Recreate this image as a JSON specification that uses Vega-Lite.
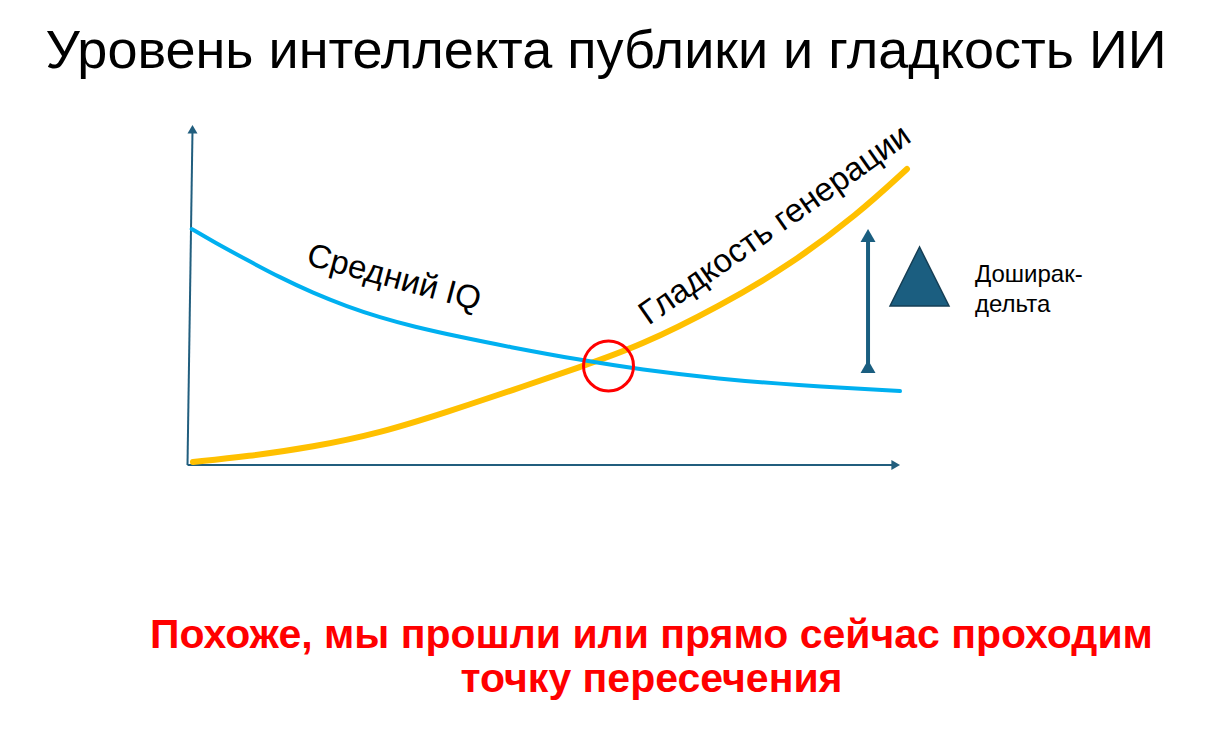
{
  "$schema": "https://vega.github.io/schema/vega-lite/v6.json",
  "width": 1230,
  "height": 743,
  "padding": 0,
  "autosize": {"type": "fit", "contains": "padding"},
  "background": "white",
  "view": {"stroke": null},
  "config": {"text": {"font": "Liberation Sans"}},
  "datasets": {
    "curves": [
      {"series": "Средний IQ", "x": 0.52, "y": 69.41},
      {"series": "Средний IQ", "x": 3.51, "y": 65.74},
      {"series": "Средний IQ", "x": 8.29, "y": 60.29},
      {"series": "Средний IQ", "x": 12.92, "y": 55.15},
      {"series": "Средний IQ", "x": 17.56, "y": 50.59},
      {"series": "Средний IQ", "x": 22.33, "y": 46.62},
      {"series": "Средний IQ", "x": 26.97, "y": 43.38},
      {"series": "Средний IQ", "x": 31.6, "y": 40.74},
      {"series": "Средний IQ", "x": 38.2, "y": 37.65},
      {"series": "Средний IQ", "x": 44.8, "y": 34.85},
      {"series": "Средний IQ", "x": 55.06, "y": 30.88},
      {"series": "Средний IQ", "x": 63.48, "y": 28.09},
      {"series": "Средний IQ", "x": 74.72, "y": 25.29},
      {"series": "Средний IQ", "x": 84.97, "y": 23.53},
      {"series": "Средний IQ", "x": 100.0, "y": 21.76},
      {"series": "Гладкость генерации", "x": 0.7, "y": 0.88},
      {"series": "Гладкость генерации", "x": 8.29, "y": 2.5},
      {"series": "Гладкость генерации", "x": 17.56, "y": 5.29},
      {"series": "Гладкость генерации", "x": 26.97, "y": 9.41},
      {"series": "Гладкость генерации", "x": 36.38, "y": 15.59},
      {"series": "Гладкость генерации", "x": 45.65, "y": 22.06},
      {"series": "Гладкость генерации", "x": 55.06, "y": 28.82},
      {"series": "Гладкость генерации", "x": 63.48, "y": 35.0},
      {"series": "Гладкость генерации", "x": 74.72, "y": 46.76},
      {"series": "Гладкость генерации", "x": 84.55, "y": 58.82},
      {"series": "Гладкость генерации", "x": 94.1, "y": 73.82},
      {"series": "Гладкость генерации", "x": 100.98, "y": 87.06}
    ],
    "axes": [
      {"part": "y", "x": -0.07, "y": 0, "x2": 0.63, "y2": 98.2},
      {"part": "x", "x": -0.07, "y": 0, "x2": 99.0, "y2": 0}
    ],
    "axisHeads": [
      {"dir": "up", "x": 0.63, "y": 98.74},
      {"dir": "right", "x": 99.4, "y": 0}
    ],
    "delta": [
      {"x": 95.51, "y": 67.35, "x2": 95.51, "y2": 29.12}
    ],
    "deltaHeads": [
      {"dir": "up", "x": 95.51, "y": 67.5},
      {"dir": "down", "x": 95.51, "y": 28.97}
    ],
    "deltaSign": [{"x": 102.74, "y": 55.44}],
    "crossing": [{"x": 59.06, "y": 29.12}],
    "texts": [
      {"role": "title", "x": 58.71, "y": 116.76, "label": "Уровень интеллекта публики и гладкость ИИ"},
      {"role": "iq", "x": 28.93, "y": 55.0, "label": "Средний IQ"},
      {"role": "smooth", "x": 82.44, "y": 70.59, "label": "Гладкость генерации"},
      {"role": "delta", "x": 110.53, "y": 53.82, "label": "Доширак-"},
      {"role": "delta", "x": 110.53, "y": 45.0, "label": "дельта"},
      {"role": "note", "x": 65.1, "y": -53.82, "label": "Похоже, мы прошли или прямо сейчас проходим"},
      {"role": "note", "x": 65.1, "y": -66.76, "label": "точку пересечения"}
    ]
  },
  "encoding": {
    "x": {"field": "x", "type": "quantitative", "axis": null, "scale": {"domain": [-26.404, 146.348], "nice": false, "zero": false}},
    "y": {"field": "y", "type": "quantitative", "axis": null, "scale": {"domain": [-81.765, 136.765], "nice": false, "zero": false}}
  },
  "layer": [
    {
      "data": {"name": "axes"},
      "mark": {"type": "rule", "color": "#215e7e", "strokeWidth": 2},
      "encoding": {"x2": {"field": "x2"}, "y2": {"field": "y2"}}
    },
    {
      "data": {"name": "axisHeads"},
      "mark": {"type": "point", "filled": true, "color": "#215e7e", "size": 100, "opacity": 1},
      "encoding": {
        "shape": {"field": "dir", "type": "nominal", "legend": null, "scale": {"domain": ["up", "right"], "range": ["triangle-up", "triangle-right"]}}
      }
    },
    {
      "data": {"name": "curves"},
      "transform": [{"filter": "datum.series === 'Гладкость генерации'"}],
      "mark": {"type": "line", "interpolate": "basis", "color": "#ffc000", "strokeWidth": 6, "strokeCap": "round"},
      "encoding": {}
    },
    {
      "data": {"name": "curves"},
      "transform": [{"filter": "datum.series === 'Средний IQ'"}],
      "mark": {"type": "line", "interpolate": "basis", "color": "#00b0f0", "strokeWidth": 4, "strokeCap": "round"},
      "encoding": {}
    },
    {
      "data": {"name": "crossing"},
      "mark": {"type": "point", "shape": "circle", "filled": false, "color": "#ff0000", "strokeWidth": 3, "size": 2500, "opacity": 1}
    },
    {
      "data": {"name": "delta"},
      "mark": {"type": "rule", "color": "#1a5e80", "strokeWidth": 4},
      "encoding": {"x2": {"field": "x2"}, "y2": {"field": "y2"}}
    },
    {
      "data": {"name": "deltaHeads"},
      "mark": {"type": "point", "filled": true, "color": "#1a5e80", "size": 225, "opacity": 1},
      "encoding": {
        "shape": {"field": "dir", "type": "nominal", "legend": null, "scale": {"domain": ["up", "down"], "range": ["triangle-up", "triangle-down"]}}
      }
    },
    {
      "data": {"name": "deltaSign"},
      "mark": {"type": "point", "shape": "M0,-1L-1,1L1,1Z", "filled": true, "fill": "#1b5e80", "stroke": "#163f55", "strokeWidth": 1.5, "size": 3481, "opacity": 1}
    },
    {
      "data": {"name": "texts"},
      "transform": [{"filter": "datum.role === 'title'"}],
      "mark": {"type": "text", "fontSize": 54, "color": "#000000", "align": "center", "baseline": "alphabetic"},
      "encoding": {"text": {"field": "label"}}
    },
    {
      "data": {"name": "texts"},
      "transform": [{"filter": "datum.role === 'iq'"}],
      "mark": {"type": "text", "fontSize": 33, "color": "#000000", "align": "center", "baseline": "middle", "angle": 15},
      "encoding": {"text": {"field": "label"}}
    },
    {
      "data": {"name": "texts"},
      "transform": [{"filter": "datum.role === 'smooth'"}],
      "mark": {"type": "text", "fontSize": 33, "color": "#000000", "align": "center", "baseline": "middle", "angle": -35},
      "encoding": {"text": {"field": "label"}}
    },
    {
      "data": {"name": "texts"},
      "transform": [{"filter": "datum.role === 'delta'"}],
      "mark": {"type": "text", "fontSize": 24, "color": "#000000", "align": "left", "baseline": "alphabetic"},
      "encoding": {"text": {"field": "label"}}
    },
    {
      "data": {"name": "texts"},
      "transform": [{"filter": "datum.role === 'note'"}],
      "mark": {"type": "text", "fontSize": 41, "fontWeight": "bold", "color": "#ff0000", "align": "center", "baseline": "alphabetic"},
      "encoding": {"text": {"field": "label"}}
    }
  ]
}
